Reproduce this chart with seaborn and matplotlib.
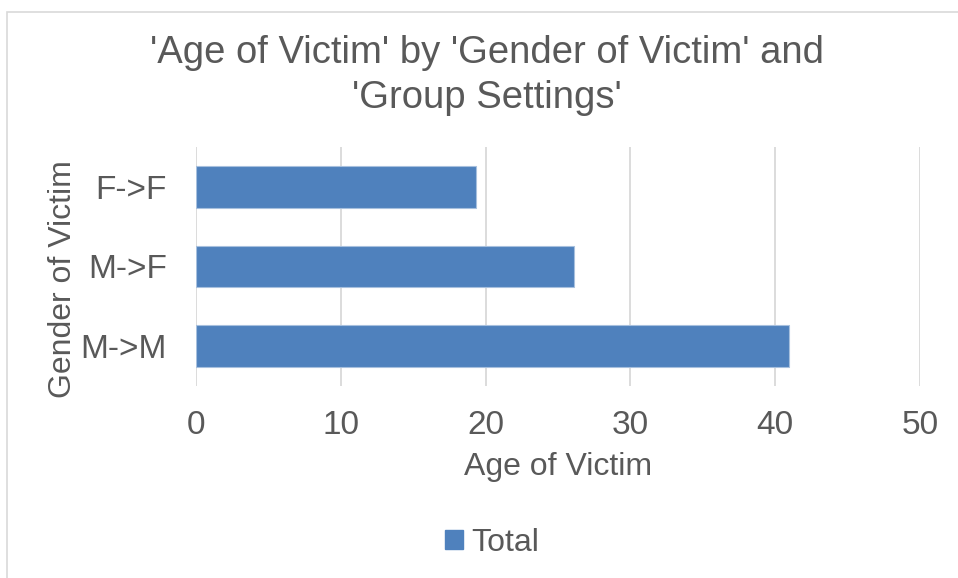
import numpy as np
import pandas as pd
import matplotlib
matplotlib.use('Agg')
import matplotlib.pyplot as plt
import seaborn as sns
from matplotlib.patches import Patch, Rectangle

# values
categories = ['F->F', 'M->F', 'M->M']
ages = [19.35, 26.1, 40.95]
x_ticks = [0, 10, 20, 30, 40, 50]
series_name = 'Total'

bar_color = '#4f81bd'
text_color = '#595959'
grid_color = '#d9d9d9'

sns.set_style('white')
plt.rcParams['font.family'] = ['Liberation Sans', 'DejaVu Sans']

df = pd.DataFrame({'gender': categories, 'age': ages})

fig = plt.figure(figsize=(9.58, 5.78), dpi=100)
W, H = 958, 578
ax = fig.add_axes([196 / W, 1 - 386 / H, (920 - 196) / W, (386 - 147) / H])

sns.barplot(data=df, x='age', y='gender', orient='h', color=bar_color,
            width=0.52, ax=ax, saturation=1, edgecolor='#a7c0de', linewidth=0.8, zorder=3)

ax.set_xlim(0, 50)
ax.set_xticks(x_ticks)
ax.set_ylim(2.5, -0.5)
ax.grid(axis='x', color=grid_color, linewidth=1.3, zorder=0)
ax.grid(axis='y', visible=False)
for s in ax.spines.values():
    s.set_visible(False)
ax.tick_params(axis='x', length=0, pad=17, labelsize=24, labelcolor=text_color)
ax.tick_params(axis='y', length=0, pad=21, labelsize=24, labelcolor=text_color)

ax.set_xlabel('Age of Victim', fontsize=23, color=text_color, labelpad=8)
ax.set_ylabel('Gender of Victim', fontsize=23, color=text_color)
ax.yaxis.set_label_coords((78 - 196) / (920 - 196), (386 - 279) / (386 - 147))

fig.text(487 / W, 1 - 75.5 / H, "'Age of Victim' by 'Gender of Victim' and\n'Group Settings'",
         ha='center', va='center', fontsize=27.5, color=text_color, linespacing=1.35)

handle = Patch(facecolor=bar_color, edgecolor=bar_color)
fig.legend(handles=[handle], labels=[series_name], loc='center', bbox_to_anchor=(492 / W, 1 - 543 / H),
           frameon=False, fontsize=23, labelcolor=text_color, handlelength=0.55, handleheight=0.55,
           handletextpad=0.25)

fig.patches.append(Rectangle((7 / W, -0.1), 1.2, 1 - 12 / H + 0.1, transform=fig.transFigure,
                             fill=False, edgecolor='#d9d9d9', linewidth=1.2))

fig.savefig('out.png', dpi=100)
